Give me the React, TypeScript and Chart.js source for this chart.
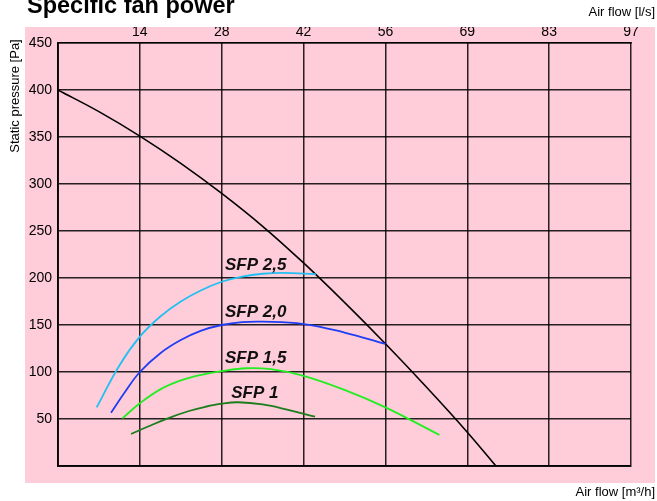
import { useEffect, useRef } from 'react';
import { Chart, registerables } from 'chart.js';

Chart.register(...registerables);

// Air flow in m³/h on the x axis, static pressure in Pa on the y axis.
const systemFlow = [0, 25, 50, 75, 100, 125, 150, 175, 200, 225, 250, 267.5];
const systemPressure = [400, 377, 351, 322, 290, 255, 216, 174, 130, 84, 36, 0];

const sfp25Flow = [23.6, 37.5, 50, 62.5, 75, 87.5, 100, 112.5, 125, 137.5, 157.5];
const sfp25Pressure = [62.4, 107, 137.6, 159, 175, 187, 196, 201.5, 204.5, 205.5, 204];

const sfp20Flow = [32.4, 41, 50, 62.5, 75, 87.5, 100, 112.5, 125, 150, 175, 200];
const sfp20Pressure = [56.7, 79, 100, 120, 134, 144, 150, 153, 153.5, 151, 142, 130];

const sfp15Flow = [39.3, 50, 62.5, 75, 87.5, 100, 115, 130, 150, 175, 200, 233];
const sfp15Pressure = [50.7, 66.7, 81.5, 91, 97, 101, 104, 103, 96, 81, 62.4, 33];

const sfp10Flow = [44.6, 55, 67.5, 80, 90, 100, 110, 125, 140, 157];
const sfp10Pressure = [34, 42, 51, 58.5, 63, 66.3, 67.8, 65.5, 60, 52.5];

// Top axis: the same flow expressed in l/s at every 50 m³/h gridline.
const litresPerSecondTicks = ['14', '28', '42', '56', '69', '83', '97'];

const sfpNames = ['SFP 2,5', 'SFP 2,0', 'SFP 1,5', 'SFP 1'];
// Anchor (left edge, baseline) of each curve name, in axis units.
const sfpNameFlow = [102, 102, 102, 105.8];
const sfpNamePressure = [208.5, 158.8, 109.3, 72.7];

const FONT = "'Liberation Sans', Arial, Helvetica, sans-serif";
const PINK = '#ffccd9';
const GRID = 'rgba(0,0,0,0.85)';

const toPoints = (xs: number[], ys: number[]) => xs.map((x, i) => ({ x, y: ys[i] }));

const decor = {
  id: 'decor',
  beforeDraw(chart: any) {
    const { ctx } = chart;
    ctx.save();
    ctx.fillStyle = PINK;
    ctx.fillRect(25, 27, 630, 456);
    ctx.restore();
  },
  afterDatasetsDraw(chart: any) {
    const { ctx, scales } = chart;
    ctx.save();
    ctx.fillStyle = '#111';
    ctx.font = `italic bold 17px ${FONT}`;
    ctx.textAlign = 'left';
    ctx.textBaseline = 'alphabetic';
    sfpNames.forEach((name, i) => {
      ctx.fillText(name, scales.x.getPixelForValue(sfpNameFlow[i]), scales.y.getPixelForValue(sfpNamePressure[i]));
    });
    ctx.restore();
  },
  afterDraw(chart: any) {
    const { ctx } = chart;
    ctx.save();
    ctx.fillStyle = '#000';
    ctx.textBaseline = 'alphabetic';

    ctx.font = `bold 23.5px ${FONT}`;
    ctx.textAlign = 'left';
    ctx.fillText('Specific fan power', 27, 13);

    ctx.font = `13px ${FONT}`;
    ctx.textAlign = 'right';
    ctx.fillText('Air flow [l/s]', 655, 16);
    ctx.fillText('Air flow [m³/h]', 655, 496);

    ctx.translate(18.5, 96);
    ctx.rotate(-Math.PI / 2);
    ctx.textAlign = 'center';
    ctx.fillText('Static pressure [Pa]', 0, 0);
    ctx.restore();
  },
};

export default function App() {
  const canvasRef = useRef<HTMLCanvasElement | null>(null);

  useEffect(() => {
    if (!canvasRef.current) return;
    Chart.defaults.font.family = FONT;
    const line = (data: { x: number; y: number }[], color: string, width = 1.8) => ({
      data,
      borderColor: color,
      borderWidth: width,
      pointRadius: 0,
      fill: false,
      tension: 0.4,
    });

    const chart = new Chart(canvasRef.current, {
      type: 'line',
      data: {
        datasets: [
          line(toPoints(sfp25Flow, sfp25Pressure), '#22c0f2'),
          line(toPoints(sfp20Flow, sfp20Pressure), '#1f3df5'),
          line(toPoints(sfp15Flow, sfp15Pressure), '#22ee22'),
          line(toPoints(sfp10Flow, sfp10Pressure), '#1b7d1b'),
          line(toPoints(systemFlow, systemPressure), '#000000', 1.6),
        ],
      },
      options: {
        responsive: false,
        animation: false,
        layout: { padding: { left: 25, right: 26, top: 27, bottom: 35 } },
        plugins: { legend: { display: false }, tooltip: { enabled: false }, title: { display: false } },
        scales: {
          x: {
            type: 'linear',
            position: 'bottom',
            min: 0,
            max: 350,
            ticks: { display: false, stepSize: 50 },
            grid: { color: GRID, lineWidth: 1.5, drawTicks: false },
            border: { color: GRID, width: 2 },
            afterFit: (s: any) => { s.height = 0; },
          },
          x2: {
            type: 'linear',
            position: 'top',
            min: 0,
            max: 350,
            ticks: {
              stepSize: 50,
              autoSkip: false,
              maxRotation: 0,
              padding: 2,
              color: '#000',
              font: { size: 14 },
              callback: (_v: any, i: number) => (i === 0 ? '' : litresPerSecondTicks[i - 1]),
            },
            grid: { display: false, drawTicks: false },
            border: { color: GRID, width: 1.5 },
            afterFit: (s: any) => { s.height = 16; },
          },
          y: {
            min: 0,
            max: 450,
            ticks: {
              stepSize: 50,
              padding: 6,
              color: '#000',
              font: { size: 14 },
              callback: (v: any) => (v === 0 ? '' : String(v)),
            },
            grid: { color: GRID, lineWidth: 1.5, drawTicks: false },
            border: { color: GRID, width: 2 },
            afterFit: (s: any) => { s.width = 33; },
          },
        },
      } as any,
      plugins: [decor],
    });
    return () => chart.destroy();
  }, []);

  return (
    <canvas
      ref={canvasRef}
      width={657}
      height={501}
      style={{ position: 'absolute', left: 0, top: 0, display: 'block' }}
    />
  );
}
